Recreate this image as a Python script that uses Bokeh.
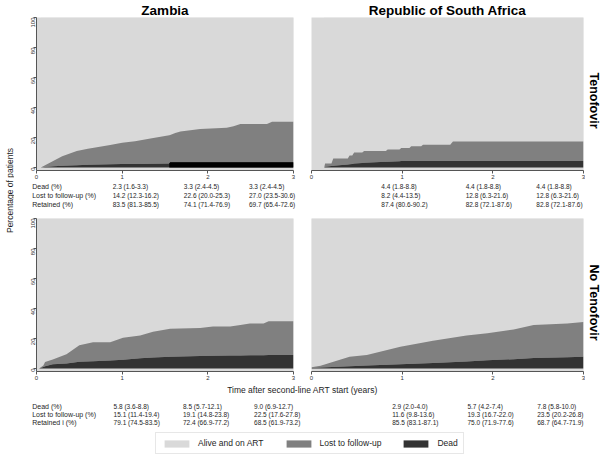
import math
from bokeh.plotting import figure
from bokeh.layouts import row, column
from bokeh.models import (Range1d, Label, LabelSet, ColumnDataSource, Legend,
                          LegendItem, FixedTicker, Title)
from bokeh.core.properties import value
from bokeh.embed import file_html
from bokeh.resources import INLINE

# ---------------- data ----------------
year_ticks = [0, 1, 2, 3]
pct_ticks = [0, 20, 40, 60, 80, 100]

countries = ["Zambia", "Republic of South Africa"]
regimens = ["Tenofovir", "No Tenofovir"]
legend_labels = ["Alive and on ART", "Lost to follow-up", "Dead"]
x_title = "Time after second-line ART start (years)"
y_title = "Percentage of patients"

# Zambia, Tenofovir
zm_tdf_t = [0.05, 0.10, 0.20, 0.30, 0.47, 0.60, 0.86, 1.00, 1.15, 1.33, 1.55, 1.56,
            1.62, 1.68, 1.91, 2.22, 2.30, 2.38, 2.69, 2.75, 3.00]
zm_tdf_dead = [0, 0.3, 0.8, 1.2, 1.5, 1.8, 2.1, 2.3, 2.4, 2.5, 2.6, 3.5,
               3.5, 3.5, 3.5, 3.5, 3.5, 3.5, 3.5, 3.5, 3.5]
zm_tdf_ltfu = [0, 1.2, 3.7, 6.3, 9.5, 10.7, 12.9, 14.2, 15.1, 16.8, 18.9, 18.2,
               19.5, 20.5, 22.2, 23.0, 24.0, 25.5, 25.5, 27.0, 27.0]
zm_tdf_black_from = 1.55

# South Africa, Tenofovir
za_tdf_t = [0.14, 0.15, 0.22, 0.24, 0.40, 0.42, 0.45, 0.47, 0.56, 0.58, 0.82, 0.84,
            0.97, 0.99, 1.08, 1.10, 1.21, 1.23, 1.53, 1.56, 3.00]
za_tdf_dead = [0, 0.5, 1.0, 1.2, 2.0, 2.2, 2.4, 2.6, 3.0, 3.1, 3.8, 3.9,
               4.2, 4.3, 4.4, 4.4, 4.4, 4.4, 4.4, 4.4, 4.4]
za_tdf_ltfu = [0, 2.1, 1.6, 4.8, 4.0, 5.8, 5.6, 7.4, 7.0, 7.9, 7.2, 8.1,
               7.8, 8.7, 8.6, 9.8, 9.8, 10.8, 10.8, 13.0, 13.0]

# Zambia, No Tenofovir
zm_no_t = [0.03, 0.08, 0.10, 0.19, 0.35, 0.50, 0.66, 0.86, 1.01, 1.21, 1.36, 1.56,
           1.91, 2.06, 2.26, 2.38, 2.49, 2.65, 2.71, 3.00]
zm_no_dead = [0, 1.0, 1.5, 2.8, 3.4, 4.5, 4.8, 5.4, 5.8, 6.8, 7.3, 7.8,
              8.3, 8.5, 8.6, 8.7, 8.8, 8.9, 9.0, 9.0]
zm_no_ltfu = [0, 1.0, 2.9, 3.2, 6.1, 11.0, 12.7, 12.1, 14.7, 15.2, 17.2, 18.7,
              18.7, 19.5, 19.4, 20.3, 21.2, 21.1, 22.5, 22.5]

# South Africa, No Tenofovir
za_no_t = [0.00, 0.10, 0.42, 0.61, 0.98, 1.34, 1.71, 1.94, 2.23, 2.45, 2.82, 3.00]
za_no_dead = [0.3, 0.6, 1.5, 2.0, 2.9, 3.6, 4.6, 5.5, 6.2, 7.0, 7.5, 7.8]
za_no_ltfu = [0.5, 1.2, 6.3, 7.0, 11.6, 14.9, 17.4, 18.0, 19.8, 22.0, 22.5, 23.2]

# tables under the panels (rows: dead, lost, retained; columns: 1, 2, 3 years)
row_names_top = ["Dead (%)", "Lost to follow-up (%)", "Retained (%)"]
row_names_bottom = ["Dead (%)", "Lost to follow-up (%)", "Retained i (%)"]
zm_tdf_table = [["2.3 (1.6-3.3)", "3.3 (2.4-4.5)", "3.3 (2.4-4.5)"],
                ["14.2 (12.3-16.2)", "22.6 (20.0-25.3)", "27.0 (23.5-30.6)"],
                ["83.5 (81.3-85.5)", "74.1 (71.4-76.9)", "69.7 (65.4-72.6)"]]
za_tdf_table = [["4.4 (1.8-8.8)", "4.4 (1.8-8.8)", "4.4 (1.8-8.8)"],
                ["8.2 (4.4-13.5)", "12.8 (6.3-21.6)", "12.8 (6.3-21.6)"],
                ["87.4 (80.6-90.2)", "82.8 (72.1-87.6)", "82.8 (72.1-87.6)"]]
zm_no_table = [["5.8 (3.6-8.8)", "8.5 (5.7-12.1)", "9.0 (6.9-12.7)"],
               ["15.1 (11.4-19.4)", "19.1 (14.8-23.8)", "22.5 (17.6-27.8)"],
               ["79.1 (74.5-83.5)", "72.4 (66.9-77.2)", "68.5 (61.9-73.2)"]]
za_no_table = [["2.9 (2.0-4.0)", "5.7 (4.2-7.4)", "7.8 (5.8-10.0)"],
               ["11.6 (9.8-13.6)", "19.3 (16.7-22.0)", "23.5 (20.2-26.8)"],
               ["85.5 (83.1-87.1)", "75.0 (71.9-77.6)", "68.7 (64.7-71.9)"]]
zm_tdf_cols = [0.89, 1.72, 2.48]
za_tdf_cols = [0.77, 1.70, 2.48]
zm_no_cols = [0.90, 1.71, 2.54]
za_no_cols = [0.89, 1.72, 2.49]
row_name_x = -0.05

# ---------------- style / geometry (pixels) ----------------
FONT = "Liberation Sans"
C_ALIVE = "#d9d9d9"
C_LTFU = "#808080"
C_DEAD = "#333333"
TXT = "#1e1e1e"
AX = "#555555"

YL_W = 14                      # column holding the y title
ST_W = 16                      # column holding the strip labels
L_W, R_W = 288, 283            # widths of left / right panel columns
L_BL, L_BR = 22, 9             # left column borders
R_BL, R_BR = 9, 2              # right column borders
ROW1_H, TAB1_H, ROW2_H = 182, 30, 171
XT_H, TAB2_H, LEG_H = 14, 31, 30
T1, B1 = 15, 12
T2, B2 = 6, 12
TOTAL_H = ROW1_H + TAB1_H + ROW2_H + XT_H + TAB2_H + LEG_H


def style_axis(a):
    a.axis_line_color = AX
    a.major_tick_line_color = AX
    a.major_tick_out = 3
    a.major_tick_in = 0
    a.minor_tick_out = 0
    a.minor_tick_in = 0
    a.major_label_standoff = 1
    a.major_label_text_font = FONT
    a.major_label_text_font_size = "6px"
    a.major_label_text_color = "#333333"


def panel(w, h, bl, br, bt, bb, show_y):
    p = figure(width=w, height=h, x_range=Range1d(0, 3), y_range=Range1d(-2, 100),
               output_backend="svg", toolbar_location=None, title=None,
               min_border_left=bl, min_border_right=br,
               min_border_top=bt, min_border_bottom=bb,
               background_fill_color=C_ALIVE, border_fill_color="white",
               outline_line_color=None)
    p.grid.visible = False
    xa = p.xaxis[0]
    xa.ticker = FixedTicker(ticks=year_ticks)
    style_axis(xa)
    ya = p.yaxis[0]
    ya.ticker = FixedTicker(ticks=pct_ticks)
    style_axis(ya)
    ya.major_label_orientation = math.pi / 2
    ya.visible = show_y
    return p


def blank(w, h, xr, yr):
    f = figure(width=w, height=h, x_range=xr, y_range=yr, output_backend="svg",
               toolbar_location=None, title=None, min_border=0,
               min_border_left=0, min_border_right=0, min_border_top=0,
               min_border_bottom=0, outline_line_color=None,
               background_fill_color="white", border_fill_color="white")
    f.axis.visible = False
    f.grid.visible = False
    return f


def draw(p, t, dead, ltfu, black_from=None):
    cum = [d + l for d, l in zip(dead, ltfu)]
    src = ColumnDataSource(dict(t=t, dead=dead, cum=cum))
    p.varea(x="t", y1="cum", y2=100, source=src, fill_color=C_ALIVE)
    p.varea(x="t", y1="dead", y2="cum", source=src, fill_color=C_LTFU)
    p.varea(x="t", y1=0, y2="dead", source=src, fill_color=C_DEAD)
    if black_from is not None:
        idx = [i for i, x in enumerate(t) if x >= black_from]
        bsrc = ColumnDataSource(dict(t=[t[i] for i in idx], dead=[dead[i] for i in idx]))
        p.varea(x="t", y1=0, y2="dead", source=bsrc, fill_color="#000000")


def add_title(p, text, size, offset):
    p.add_layout(Title(text=text, align="center", text_font=FONT, text_font_size=size,
                       text_font_style="bold", text_color="#000000", standoff=0,
                       offset=offset), "above")


def table_fig(w, h, bl, br, cells, cols, ys, names=None):
    ppy = (w - bl - br) / 3.0
    f = blank(w, h, Range1d(-bl / ppy, 3 + br / ppy), Range1d(0, h))
    xs, yy, tx = [], [], []
    for r, vals in enumerate(cells):
        for c, v in enumerate(vals):
            xs.append(cols[c]); yy.append(ys[r]); tx.append(v)
    f.add_layout(LabelSet(x="x", y="y", text="text",
                          source=ColumnDataSource(dict(x=xs, y=yy, text=tx)),
                          text_font=value(FONT), text_font_size="6.5px",
                          text_baseline="middle", text_align="left", text_color=TXT))
    if names:
        f.add_layout(LabelSet(x="x", y="y", text="text",
                              source=ColumnDataSource(dict(x=[row_name_x] * len(names), y=ys,
                                                           text=names)),
                              text_font=value(FONT), text_font_size="7px",
                              text_baseline="middle", text_align="left", text_color=TXT))
    return f


# ---------------- panels ----------------
tl = panel(L_W, ROW1_H, L_BL, L_BR, T1, B1, True)
tr = panel(R_W, ROW1_H, R_BL, R_BR, T1, B1, False)
bl = panel(L_W, ROW2_H, L_BL, L_BR, T2, B2, True)
br = panel(R_W, ROW2_H, R_BL, R_BR, T2, B2, False)

draw(tl, zm_tdf_t, zm_tdf_dead, zm_tdf_ltfu, zm_tdf_black_from)
draw(tr, za_tdf_t, za_tdf_dead, za_tdf_ltfu)
draw(bl, zm_no_t, zm_no_dead, zm_no_ltfu)
draw(br, za_no_t, za_no_dead, za_no_ltfu)

add_title(tl, countries[0], "13.5px", -5)
add_title(tr, countries[1], "13.5px", 0)

# ---------------- tables ----------------
tab1_y = [26, 17, 8]
tab_tl = table_fig(L_W, TAB1_H, L_BL, L_BR, zm_tdf_table, zm_tdf_cols, tab1_y, row_names_top)
tab_tr = table_fig(R_W, TAB1_H, R_BL, R_BR, za_tdf_table, za_tdf_cols, tab1_y)

tab2_y = [22, 14, 6]
tab_bl = table_fig(L_W, TAB2_H, L_BL, L_BR, zm_no_table, zm_no_cols, tab2_y, row_names_bottom)
tab_br = table_fig(R_W, TAB2_H, R_BL, R_BR, za_no_table, za_no_cols, tab2_y)

# ---------------- x title ----------------
xt = blank(L_W + R_W, XT_H, Range1d(0, L_W + R_W), Range1d(0, XT_H))
xt.add_layout(Label(x=(L_W - L_BR + L_W + R_BL) / 2.0, y=XT_H - 6, text=x_title,
                    text_font=FONT, text_font_size="8.5px", text_align="center",
                    text_baseline="middle", text_color=TXT))

# ---------------- legend ----------------
lg = blank(L_W + R_W, LEG_H, Range1d(0, 1), Range1d(0, 1))
dummy_x = [5, 6]
r_alive = lg.varea(x=dummy_x, y1=[0, 0], y2=[1, 1], fill_color=C_ALIVE)
r_ltfu = lg.varea(x=dummy_x, y1=[0, 0], y2=[1, 1], fill_color=C_LTFU)
r_dead = lg.varea(x=dummy_x, y1=[0, 0], y2=[1, 1], fill_color=C_DEAD)
leg = Legend(items=[LegendItem(label=legend_labels[0], renderers=[r_alive]),
                    LegendItem(label=legend_labels[1], renderers=[r_ltfu]),
                    LegendItem(label=legend_labels[2], renderers=[r_dead])],
             location=(141, 4), orientation="horizontal",
             glyph_width=31, glyph_height=9, label_standoff=6, spacing=19,
             padding=5, margin=0, label_height=9, label_width=10,
             label_text_font=FONT, label_text_font_size="8.5px",
             label_text_color=TXT, border_line_color="#cfcfcf",
             background_fill_color="white", background_fill_alpha=1.0)
lg.add_layout(leg)

# ---------------- y title column ----------------
yfig = blank(YL_W, TOTAL_H, Range1d(0, YL_W), Range1d(0, TOTAL_H))
yfig.add_layout(Label(x=9, y=TOTAL_H - 190, text=y_title, angle=math.pi / 2,
                      text_font=FONT, text_font_size="8.5px", text_align="center",
                      text_baseline="middle", text_color=TXT))

# ---------------- strip labels column ----------------
sfig = blank(ST_W, TOTAL_H, Range1d(0, ST_W), Range1d(0, TOTAL_H))
for txt, yc in zip(regimens, [100, 302]):
    sfig.add_layout(Label(x=ST_W / 2.0, y=TOTAL_H - yc, text=txt, angle=-math.pi / 2,
                          text_font=FONT, text_font_size="12.5px", text_font_style="bold",
                          text_align="center", text_baseline="middle",
                          text_color="#000000"))

layout = row(yfig,
             column(row(tl, tr), row(tab_tl, tab_tr), row(bl, br), xt,
                    row(tab_bl, tab_br), lg),
             sfig)

open("out.html", "w").write(file_html(layout, INLINE))
